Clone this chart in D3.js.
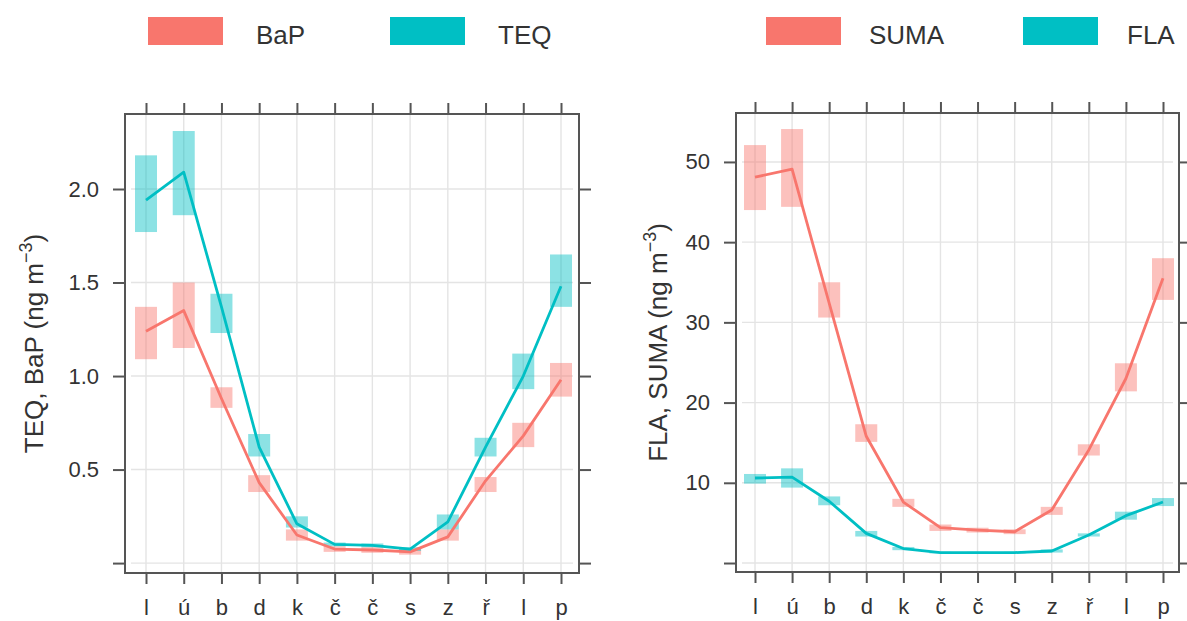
<!DOCTYPE html>
<html>
<head>
<meta charset="utf-8">
<script src="https://cdn.jsdelivr.net/npm/d3@7"></script>
<style>
  html, body { margin: 0; padding: 0; background: #fff; }
  svg { display: block; font-family: "Liberation Sans", Arial, sans-serif; }
</style>
</head>
<body>
<svg id="chart" width="1187" height="621"></svg>
<script>
// Month initials (Czech), January .. December
const months = ["l", "ú", "b", "d", "k", "č", "č", "s", "z", "ř", "l", "p"];

// Left panel: BaP and TEQ (ng m-3) — monthly mean with interval
const bapMean = [1.24, 1.35, 0.88, 0.43, 0.15, 0.075, 0.07, 0.06, 0.14, 0.44, 0.68, 0.98];
const bapLow  = [1.09, 1.15, 0.83, 0.38, 0.12, 0.06, 0.055, 0.045, 0.12, 0.38, 0.62, 0.89];
const bapHigh = [1.37, 1.50, 0.94, 0.47, 0.18, 0.09, 0.085, 0.075, 0.18, 0.46, 0.75, 1.07];

const teqMean = [1.94, 2.09, 1.37, 0.62, 0.21, 0.10, 0.095, 0.075, 0.22, 0.62, 1.00, 1.48];
const teqLow  = [1.77, 1.86, 1.23, 0.57, 0.19, 0.09, 0.085, 0.065, 0.18, 0.57, 0.93, 1.37];
const teqHigh = [2.18, 2.31, 1.44, 0.69, 0.25, 0.11, 0.105, 0.085, 0.26, 0.67, 1.12, 1.65];

// Right panel: SUMA and FLA (ng m-3)
const sumaMean = [48.1, 49.1, 32.4, 15.8, 7.6, 4.4, 4.1, 3.9, 6.6, 14.1, 23.0, 35.5];
const sumaLow  = [44.0, 44.4, 30.6, 15.1, 7.0, 4.0, 3.8, 3.6, 6.0, 13.4, 21.4, 32.8];
const sumaHigh = [52.1, 54.1, 35.0, 17.3, 8.0, 4.8, 4.4, 4.2, 7.0, 14.8, 24.9, 38.0];

const flaMean = [10.6, 10.7, 7.7, 3.7, 1.8, 1.3, 1.3, 1.3, 1.5, 3.5, 5.9, 7.6];
const flaLow  = [9.9, 9.4, 7.2, 3.3, 1.6, 1.2, 1.2, 1.2, 1.3, 3.3, 5.4, 7.1];
const flaHigh = [11.1, 11.8, 8.3, 4.0, 2.0, 1.4, 1.4, 1.4, 1.7, 3.7, 6.4, 8.1];

// Axis ticks
const leftTicks = [0, 0.5, 1.0, 1.5, 2.0];
const leftTickLabels = ["", "0.5", "1.0", "1.5", "2.0"];
const rightTicks = [0, 10, 20, 30, 40, 50];
const rightTickLabels = ["", "10", "20", "30", "40", "50"];

const RED = "#F8766D";
const CYAN = "#00BFC4";
const FRAME = "#555";

const svg = d3.select("#chart");

function panel(opts) {
  const g = svg.append("g");
  const { box, xRange, yDomain, ticks, tickLabels, series, legend, ylab } = opts;

  const x = d3.scalePoint().domain(d3.range(months.length)).range(xRange);
  const y = d3.scaleLinear().domain(yDomain).range([box.bottom, box.top]);

  // grid
  const grid = g.append("g").attr("stroke", "#e4e4e4").attr("stroke-width", 1.4);
  grid.selectAll("line.v").data(d3.range(months.length)).join("line")
    .attr("x1", d => x(d)).attr("x2", d => x(d))
    .attr("y1", box.top).attr("y2", box.bottom);
  grid.selectAll("line.h").data(ticks).join("line")
    .attr("x1", box.left + 6).attr("x2", box.right - 6)
    .attr("y1", d => y(d)).attr("y2", d => y(d));

  // interval boxes
  const bw = 22;
  series.forEach(s => {
    g.append("g").selectAll("rect").data(d3.range(months.length)).join("rect")
      .attr("x", i => x(i) - bw / 2)
      .attr("width", bw)
      .attr("y", i => y(s.high[i]))
      .attr("height", i => y(s.low[i]) - y(s.high[i]))
      .attr("fill", s.color)
      .attr("fill-opacity", s.alpha);
  });

  // mean lines
  series.forEach(s => {
    const line = d3.line().x(i => x(i)).y(i => y(s.mean[i]));
    g.append("path")
      .datum(d3.range(months.length))
      .attr("d", line)
      .attr("fill", "none")
      .attr("stroke", s.color)
      .attr("stroke-width", 2.8)
      .attr("stroke-linejoin", "round");
  });

  // axes: ticks outward on all four sides
  const styleAxis = sel => {
    sel.select(".domain").remove();
    sel.selectAll(".tick line").attr("stroke", FRAME).attr("stroke-width", 2);
    sel.selectAll(".tick text").attr("fill", "#333").attr("font-size", 22);
  };
  g.append("g").attr("transform", `translate(0,${box.bottom})`)
    .call(d3.axisBottom(x).tickSize(11).tickPadding(15).tickFormat(i => months[i]))
    .call(styleAxis);
  g.append("g").attr("transform", `translate(0,${box.top})`)
    .call(d3.axisTop(x).tickSize(11).tickFormat(""))
    .call(styleAxis);
  g.append("g").attr("transform", `translate(${box.left},0)`)
    .call(d3.axisLeft(y).tickValues(ticks).tickSize(12).tickPadding(14)
      .tickFormat((d, i) => tickLabels[i]))
    .call(styleAxis);
  g.append("g").attr("transform", `translate(${box.right},0)`)
    .call(d3.axisRight(y).tickValues(ticks).tickSize(12).tickFormat(""))
    .call(styleAxis);

  // frame
  g.append("rect")
    .attr("x", box.left).attr("y", box.top)
    .attr("width", box.right - box.left).attr("height", box.bottom - box.top)
    .attr("fill", "none").attr("stroke", FRAME).attr("stroke-width", 2);

  // y axis title with superscript
  const t = g.append("text")
    .attr("transform", `translate(${ylab.x},${(box.top + box.bottom) / 2}) rotate(-90)`)
    .attr("text-anchor", "middle")
    .attr("font-size", 26)
    .attr("fill", "#333");
  t.append("tspan").text(ylab.text + " (ng m");
  t.append("tspan").attr("font-size", 18).attr("dy", -11).text("−3");
  t.append("tspan").attr("dy", 11).text(")");

  // legend
  legend.forEach(l => {
    g.append("rect").attr("x", l.x).attr("y", 17).attr("width", 75).attr("height", 28)
      .attr("fill", l.color);
    g.append("text").attr("x", l.tx).attr("y", 44).attr("font-size", 26)
      .attr("fill", "#333").text(l.label);
  });
}

panel({
  box: { left: 125, right: 579, top: 114, bottom: 573 },
  xRange: [146, 561],
  yDomain: [-0.053, 2.401],
  ticks: leftTicks,
  tickLabels: leftTickLabels,
  series: [
    { mean: bapMean, low: bapLow, high: bapHigh, color: RED, alpha: 0.45 },
    { mean: teqMean, low: teqLow, high: teqHigh, color: CYAN, alpha: 0.45 }
  ],
  legend: [
    { label: "BaP", color: RED, x: 148, tx: 256 },
    { label: "TEQ", color: CYAN, x: 390, tx: 498 }
  ],
  ylab: { x: 43, text: "TEQ, BaP" }
});

panel({
  box: { left: 736, right: 1179, top: 113, bottom: 572 },
  xRange: [755, 1163],
  yDomain: [-1.12, 56.1],
  ticks: rightTicks,
  tickLabels: rightTickLabels,
  series: [
    { mean: sumaMean, low: sumaLow, high: sumaHigh, color: RED, alpha: 0.45 },
    { mean: flaMean, low: flaLow, high: flaHigh, color: CYAN, alpha: 0.45 }
  ],
  legend: [
    { label: "SUMA", color: RED, x: 766, tx: 869 },
    { label: "FLA", color: CYAN, x: 1023, tx: 1127 }
  ],
  ylab: { x: 667, text: "FLA, SUMA" }
});
</script>
</body>
</html>
